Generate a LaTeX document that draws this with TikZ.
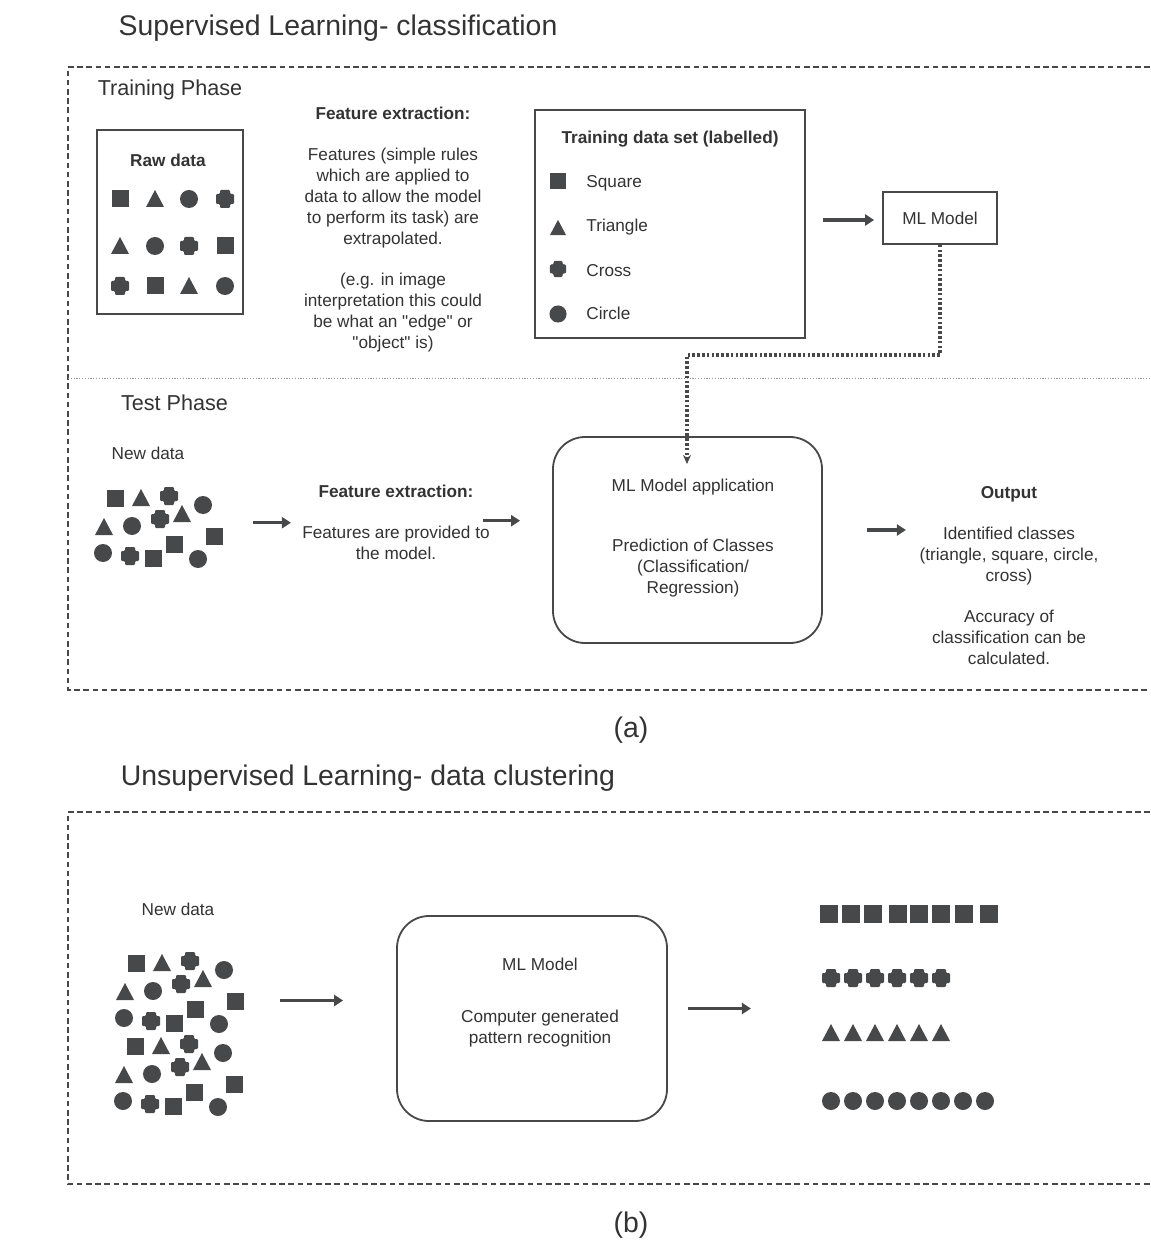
\documentclass[tikz,border=0pt]{standalone}
\usepackage{fontspec}
\setmainfont{Liberation Sans}[Ligatures=TeXOff]
\usetikzlibrary{positioning}
\usetikzlibrary{arrows.meta}
\definecolor{ink}{HTML}{47484A}
\definecolor{txt}{HTML}{333333}
\tikzset{
  title/.style={font=\fontsize{14.2}{17}\selectfont,text=txt,inner sep=0pt},
  phase/.style={font=\fontsize{10.8}{13}\selectfont,text=txt,inner sep=0pt},
  body/.style={font=\fontsize{8.6}{10.5}\selectfont,text=txt,align=center,inner sep=0pt},
  bodyhead/.style={body,font=\fontsize{8.6}{10.5}\selectfont\bfseries},
  phasebox/.style={draw=ink,line width=0.85pt,dash pattern=on 2.8pt off 1.8pt},
  divider/.style={draw=gray!80,line width=0.5pt,dash pattern=on 0.6pt off 0.8pt},
  databox/.style={rectangle,draw=ink,line width=0.9pt},
  modelbox/.style={rectangle,rounded corners=16pt,draw=ink,line width=0.9pt},
  flow/.style={-{Triangle[length=4.5pt,width=5.5pt]},line width=1.7pt,draw=ink},
  linkflow/.style={-{Stealth[length=4.5pt,width=4pt]},line width=1.6pt,
                   dash pattern=on 1.3pt off 1.1pt,draw=ink},
  shp/.style={fill=ink},
  sqr/.pic={\fill[shp] (-8.5,-8.5) rectangle (8.5,8.5);},
  trg/.pic={\fill[shp] (-9,8) -- (9,8) -- (0,-9) -- cycle;},
  crc/.pic={\fill[shp] (0,0) circle[radius=9];},
  crs/.pic={\fill[shp,rounded corners=0.6pt]
      (-5,-9) -- (5,-9) -- (5,-5) -- (9,-5) -- (9,5) -- (5,5) --
      (5,9) -- (-5,9) -- (-5,5) -- (-9,5) -- (-9,-5) -- (-5,-5) -- cycle;},
  cloud/.pic={
    \pic at (115,498) {sqr}; \pic at (141,498) {trg}; \pic at (169,496) {crs};
    \pic at (203,505) {crc};
    \pic at (104,527) {trg}; \pic at (132,526) {crc}; \pic at (160,519) {crs};
    \pic at (182,514) {trg}; \pic at (214,536) {sqr};
    \pic at (103,553) {crc}; \pic at (130,556) {crs}; \pic at (153,558) {sqr};
    \pic at (174,544) {sqr}; \pic at (198,559) {crc};
  },
}

\begin{document}
\begin{tikzpicture}[x=0.5pt,y=-0.5pt]
    \fill[white] (0,0) rectangle (1150,1240);
    \useasboundingbox (0,0) rectangle (1150,1240);

    % (a) supervised learning
    \node[title] (titleA) at (338,28) {Supervised Learning- classification};
    \draw[phasebox] (1150,67) -- (68,67) -- (68,690) -- (1150,690);
    \draw[divider] (68,379) -- (1150,379);

    % Training phase
    \node[phase] (trainphase) at (170,90) {Training Phase};
    \node[databox,minimum width=73pt,minimum height=92pt] (rawbox) at (170,222) {};
    \node[bodyhead] (rawlabel) at (168,160) {Raw data};
    \foreach \x/\s in {120/sqr,155/trg,189/crc,225/crs}
        \pic at (\x,199) {\s};
    \foreach \x/\s in {120/trg,155/crc,189/crs,225/sqr}
        \pic at (\x,246) {\s};
    \foreach \x/\s in {120/crs,155/sqr,189/trg,225/crc}
        \pic at (\x,286) {\s};

    \node[body,anchor=north] (featA) at (393,107)
        {\textbf{Feature extraction:}\\[10pt]
         Features (simple rules\\which are applied to\\data to allow the model\\
         to perform its task) are\\extrapolated.\\[10pt]
         (e.g. in image\\interpretation this could\\be what an "edge" or\\"object" is)};

    \node[databox,minimum width=135pt,minimum height=114pt] (trainset) at (670,224) {};
    \node[bodyhead] (trainlabel) at (670,139) {Training data set (labelled)};
    \pic[scale=0.9] at (558,181) {sqr};
    \pic[scale=0.9] at (558,228) {trg};
    \pic[scale=0.9] at (558,269) {crs};
    \pic[scale=0.95] at (558,314) {crc};
    \node[body,anchor=west] (lsquare)   at (586,183) {Square};
    \node[body,anchor=west] (ltriangle) at (586,227) {Triangle};
    \node[body,anchor=west] (lcross)    at (586,271) {Cross};
    \node[body,anchor=west] (lcircle)   at (586,313) {Circle};

    \node[databox,body,minimum width=57pt,minimum height=26pt] (mlmodel) at (940,218) {ML Model};
    \draw[flow,shorten <=8.5pt,shorten >=4pt] ([yshift=2pt]trainset.east) -- ([yshift=2pt]trainset.east -| mlmodel.west);

    % Test phase
    \node[phase] (testphase) at (174.5,403) {Test Phase};
    \node[body] (newA) at (148,453) {New data};
    \pic at (0,0) {cloud};

    \node[body,anchor=north] (featB) at (396,485)
        {\textbf{Feature extraction:}\\[10pt]Features are provided to\\the model.};

    \node[modelbox,minimum width=134.5pt,minimum height=103pt] (apply) at (687.5,540) {};
    \node[body,anchor=north] (applytext) at (693,479)
        {ML Model application\\[19.5pt]Prediction of Classes\\(Classification/\\Regression)};

    \node[body,anchor=north] (output) at (1009,486)
        {\textbf{Output}\\[10pt]Identified classes\\(triangle, square, circle,\\cross)\\[10pt]
         Accuracy of\\classification can be\\calculated.};

    \draw[flow] ([xshift=-24.5pt]featB.west) -- ([xshift=-5.5pt]featB.west);
    \draw[flow] ([xshift=-3.5pt,yshift=1pt]featB.east) -- ([xshift=-16pt,yshift=1pt]featB.east -| apply.west);
    \draw[flow] ([xshift=22pt,yshift=5pt]apply.east) -- ([xshift=41.5pt,yshift=5pt]apply.east);

    \coordinate (bend) at (687,355);
    \coordinate (applyin) at (687,464);
    \draw[linkflow] (mlmodel.south) |- (bend) -- (applyin);

    \node[title] (capA) at (631,730) {(a)};

    % (b) unsupervised learning
    \node[title] (titleB) at (368,778) {Unsupervised Learning- data clustering};
    \draw[phasebox] (1150,812) -- (68,812) -- (68,1184) -- (1150,1184);

    \node[body] (newB) at (178,909) {New data};
    \pic at (21,465) {cloud};
    \pic at (20,548) {cloud};

    \node[modelbox,minimum width=135pt,minimum height=102.5pt] (mlbox) at (532,1018.5) {};
    \node[body,anchor=north] (mltext) at (540,958)
        {ML Model\\[15.5pt]Computer generated\\pattern recognition};

    \draw[flow] ([xshift=-58pt,yshift=9pt]mlbox.west) -- ([xshift=-26.5pt,yshift=9pt]mlbox.west);
    \draw[flow] ([xshift=10pt,yshift=5pt]mlbox.east) -- ([xshift=41.5pt,yshift=5pt]mlbox.east);

    % clustered output
    \foreach \x in {829,851,873,898,919,941,964,989}
        \pic[scale=1.05] at (\x,914) {sqr};
    \foreach \i in {0,...,5}
        \pic at (831+22*\i,978) {crs};
    \foreach \i in {0,...,5}
        \pic at (831+22*\i,1033) {trg};
    \foreach \i in {0,...,7}
        \pic at (831+22*\i,1101) {crc};

    \node[title] (capB) at (631,1225) {(b)};
\end{tikzpicture}
\end{document}
